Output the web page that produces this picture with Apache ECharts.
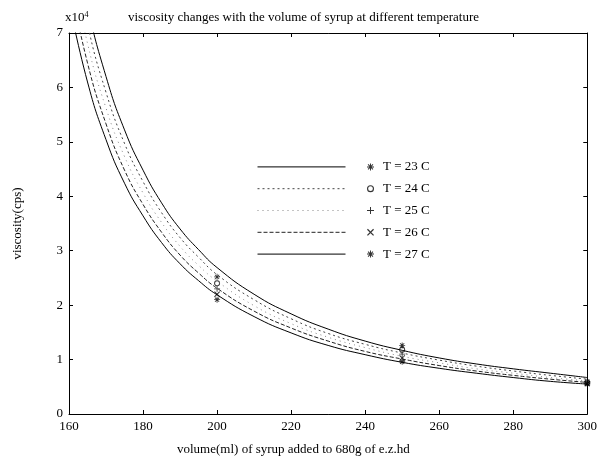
<!DOCTYPE html>
<html>
<head>
<meta charset="utf-8">
<script src="https://cdn.jsdelivr.net/npm/echarts@6/dist/echarts.min.js"></script>
<style>html,body{margin:0;padding:0;background:#fff}#c{width:600px;height:470px}</style>
</head>
<body>
<div id="c"></div>
<script>
// volume (ml) of syrup
var volumes = [160,165,170,175,180,185,190,195,200,210,220,230,240,250,260,270,280,290,300];
// viscosity (x10^4 cps) fitted curves
var curveT23 = [9.34,7.51,6.20,5.22,4.48,3.88,3.40,3.02,2.69,2.20,1.84,1.56,1.34,1.17,1.03,0.92,0.83,0.75,0.67];
var curveT24 = [8.90,7.16,5.91,4.97,4.27,3.70,3.24,2.88,2.56,2.10,1.75,1.48,1.28,1.12,0.99,0.88,0.79,0.71,0.64];
var curveT25 = [8.46,6.81,5.62,4.73,4.06,3.52,3.08,2.73,2.44,1.99,1.66,1.41,1.22,1.06,0.94,0.83,0.75,0.67,0.61];
var curveT26 = [8.02,6.45,5.33,4.48,3.85,3.34,2.92,2.59,2.31,1.89,1.58,1.34,1.15,1.01,0.89,0.79,0.71,0.64,0.58];
var curveT27 = [7.58,6.10,5.04,4.24,3.64,3.15,2.76,2.45,2.19,1.79,1.49,1.26,1.09,0.95,0.84,0.75,0.67,0.60,0.55];
// measured points
var measVolumes = [200,250,300];
var measT23 = [2.52,1.26,0.60];
var measT24 = [2.40,1.18,0.58];
var measT25 = [2.30,1.10,0.57];
var measT26 = [2.20,1.03,0.56];
var measT27 = [2.10,0.96,0.55];
var seriesNames = ['T = 23 C','T = 24 C','T = 25 C','T = 26 C','T = 27 C'];
var xTicks = [160,180,200,220,240,260,280,300];
var yTicks = [0,1,2,3,4,5,6,7];

function pairs(xs, ys){ return xs.map(function(x,i){return [x, ys[i]];}); }

var curves = [curveT23,curveT24,curveT25,curveT26,curveT27];
var meas = [measT23,measT24,measT25,measT26,measT27];
var lineStyles = [
  {color:'#000', width:1, type:'solid'},
  {color:'#444', width:1, type:[2,3]},
  {color:'#888', width:1, type:[1,4]},
  {color:'#222', width:1, type:[4,2]},
  {color:'#000', width:1, type:'solid'}
];
var star = 'path://M4.3,0H5.7V10H4.3Z M0,4.3H10V5.7H0Z M1,2L2,1L9,8L8,9Z M8,1L9,2L2,9L1,8Z';
var ring = 'path://M5,0A5,5 0 1,1 5,10A5,5 0 1,1 5,0Z M5,1.6A3.4,3.4 0 1,0 5,8.4A3.4,3.4 0 1,0 5,1.6Z';
var plus = 'path://M4.3,0H5.7V4.3H10V5.7H5.7V10H4.3V5.7H0V4.3H4.3Z';
var cross = 'path://M1,2L2,1L9,8L8,9Z M8,1L9,2L2,9L1,8Z';
var symbols = [star, ring, plus, cross, star];

var series = [];
curves.forEach(function(c,i){
  series.push({
    name:'L'+i, type:'line', data:pairs(volumes,c), smooth:true, symbol:'none',
    lineStyle:lineStyles[i], itemStyle:{color:lineStyles[i].color}, clip:true, silent:true
  });
});
meas.forEach(function(m,i){
  series.push({
    name:seriesNames[i], type:'scatter', data:pairs(measVolumes,m),
    symbol:symbols[i], symbolSize:6, symbolKeepAspect:true,
    itemStyle:{color:'#000'}
  });
});

var font = 'Liberation Serif';
var chart = echarts.init(document.getElementById('c'));
chart.setOption({
  animation:false,
  backgroundColor:'#fff',
  title:[
    {text:'viscosity changes with the volume of syrup at different temperature', left:123, top:6,
     textStyle:{fontFamily:font, fontSize:13, fontWeight:'normal', color:'#000'}},
    {text:'x10{s|4}', left:60, top:6,
     textStyle:{fontFamily:font, fontSize:13, fontWeight:'normal', color:'#000', rich:{s:{fontFamily:font,fontSize:8,verticalAlign:'top',padding:[0,0,6,0]}}}},
    {text:'volume(ml) of syrup added to 680g of e.z.hd', left:172, top:438,
     textStyle:{fontFamily:font, fontSize:13, fontWeight:'normal', color:'#000'}}
  ],
  legend:[
    {data:['L0','L1','L2','L3','L4'], orient:'vertical', left:257, top:156, padding:0, itemWidth:88, itemHeight:10,
     itemGap:0, formatter:function(){return ' ';}, itemStyle:{opacity:0}, lineStyle:{width:1},
     textStyle:{fontSize:13, lineHeight:21.8}, selectedMode:false},
    {data:seriesNames, orient:'vertical', left:367, top:156, padding:0, itemWidth:7, itemHeight:7, itemGap:0,
     textStyle:{fontFamily:font, fontSize:13, color:'#000', lineHeight:21.8, padding:[0,0,0,4]}, selectedMode:false}
  ],
  grid:{left:69, right:10, top:33, bottom:56, show:false},
  xAxis:[
    {type:'value', min:160, max:300, interval:20, position:'bottom',
     axisLine:{onZero:false, lineStyle:{color:'#000'}}, axisTick:{inside:true, length:4, lineStyle:{color:'#000'}},
     axisLabel:{fontFamily:font, fontSize:13, color:'#000', margin:6,
       formatter:function(v){return xTicks.indexOf(v)>=0 ? String(v) : '';}},
     splitLine:{show:false}},
    {type:'value', min:160, max:300, interval:20, position:'top',
     axisLine:{onZero:false, lineStyle:{color:'#000'}}, axisTick:{inside:true, length:4, lineStyle:{color:'#000'}},
     axisLabel:{show:false}, splitLine:{show:false}}
  ],
  yAxis:[
    {type:'value', min:0, max:7, interval:1, position:'left',
     name:'viscosity(cps)', nameLocation:'middle', nameGap:45, nameRotate:90,
     nameTextStyle:{fontFamily:font, fontSize:13, color:'#000'},
     axisLine:{onZero:false, lineStyle:{color:'#000'}}, axisTick:{inside:true, length:4, lineStyle:{color:'#000'}},
     axisLabel:{fontFamily:font, fontSize:13, color:'#000', margin:6,
       formatter:function(v){return yTicks.indexOf(v)>=0 ? String(v) : '';}},
     splitLine:{show:false}},
    {type:'value', min:0, max:7, interval:1, position:'right',
     axisLine:{onZero:false, lineStyle:{color:'#000'}}, axisTick:{inside:true, length:4, lineStyle:{color:'#000'}},
     axisLabel:{show:false}, splitLine:{show:false}}
  ],
  series:series
});
</script>
</body>
</html>
